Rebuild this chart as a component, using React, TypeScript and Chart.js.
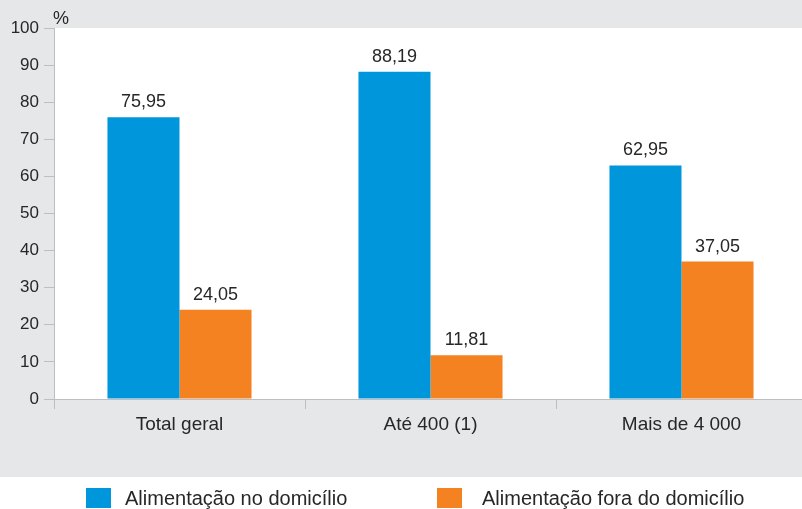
import React, { useEffect, useRef } from "react";
import { Chart, registerables } from "chart.js";

Chart.register(...registerables);

const categories = ["Total geral", "Até 400 (1)", "Mais de 4 000"];
const seriesNames = ["Alimentação no domicílio", "Alimentação fora do domicílio"];
const noDomicilio = [75.95, 88.19, 62.95];
const foraDomicilio = [24.05, 11.81, 37.05];
const yMin = 0;
const yMax = 100;
const yStep = 10;
const unitLabel = "%";

const BLUE = "rgb(0,150,219)";
const ORANGE = "rgb(245,130,32)";
const GRAY_BG = "rgb(230,231,232)";
const AXIS = "rgb(190,190,192)";
const TEXT = "rgb(40,38,40)";
const FONT = "'Liberation Sans', Arial, sans-serif";

const fmt = (v: number) => v.toFixed(2).replace(".", ",");

const legendBoxX = [86, 437];
const legendTextGap = [39, 45];

const bgPlugin = {
  id: "bgPlugin",
  beforeDraw(chart: any) {
    const { ctx, width, height, chartArea } = chart;
    ctx.save();
    ctx.fillStyle = "#ffffff";
    ctx.fillRect(0, 0, width, height);
    ctx.fillStyle = GRAY_BG;
    ctx.fillRect(0, 0, width, 477);
    ctx.fillStyle = "#ffffff";
    ctx.fillRect(chartArea.left, chartArea.top, chartArea.right - chartArea.left, chartArea.bottom - chartArea.top);
    ctx.restore();
  },
};

const labelsPlugin = {
  id: "labelsPlugin",
  afterDatasetsDraw(chart: any) {
    const { ctx, chartArea } = chart;
    ctx.save();
    ctx.fillStyle = TEXT;
    ctx.font = `18px ${FONT}`;
    ctx.textAlign = "center";
    ctx.textBaseline = "alphabetic";
    chart.data.datasets.forEach((ds: any, i: number) => {
      const meta = chart.getDatasetMeta(i);
      meta.data.forEach((bar: any, j: number) => {
        ctx.fillText(fmt(ds.data[j]), bar.x, bar.y - 10);
      });
    });
    // unit label
    ctx.textAlign = "left";
    ctx.font = `18px ${FONT}`;
    ctx.fillText(unitLabel, chartArea.left - 1, 24);
    // legend
    ctx.font = `20px ${FONT}`;
    ctx.textBaseline = "middle";
    chart.data.datasets.forEach((ds: any, i: number) => {
      const x0 = legendBoxX[i];
      ctx.fillStyle = ds.backgroundColor;
      ctx.fillRect(x0, 488, 25, 20);
      ctx.fillStyle = TEXT;
      ctx.fillText(ds.label, x0 + legendTextGap[i], 499);
    });
    ctx.restore();
  },
};

export default function App() {
  const ref = useRef<HTMLCanvasElement | null>(null);
  useEffect(() => {
    document.body.style.margin = "0";
    document.body.style.overflow = "hidden";
    const chart = new Chart(ref.current as HTMLCanvasElement, {
      type: "bar",
      data: {
        labels: categories,
        datasets: [
          { label: seriesNames[0], data: noDomicilio, backgroundColor: BLUE, barPercentage: 1, categoryPercentage: 0.574 },
          { label: seriesNames[1], data: foraDomicilio, backgroundColor: ORANGE, barPercentage: 1, categoryPercentage: 0.574 },
        ],
      },
      options: {
        responsive: false,
        devicePixelRatio: 1,
        animation: false,
        layout: { padding: { top: 28, right: 3, left: 0, bottom: 0 } },
        plugins: { legend: { display: false }, tooltip: { enabled: false } },
        scales: {
          x: {
            grid: { display: true, drawOnChartArea: false, drawTicks: true, tickLength: 10, color: AXIS, offset: true },
            border: { display: true, color: AXIS, width: 1 },
            ticks: { color: TEXT, font: { family: FONT, size: 19 }, padding: 4, maxRotation: 0 },
            afterFit: (scale: any) => { scale.height = 110; },
          },
          y: {
            min: yMin,
            max: yMax,
            ticks: { stepSize: yStep, color: TEXT, font: { family: FONT, size: 17 }, padding: 5 },
            grid: { display: true, drawOnChartArea: false, drawTicks: true, tickLength: 10, color: AXIS },
            border: { display: true, color: AXIS, width: 1 },
            afterFit: (scale: any) => { scale.width = 54; },
          },
        },
      },
      plugins: [bgPlugin, labelsPlugin],
    });
    return () => chart.destroy();
  }, []);
  return (
    <div style={{ position: "fixed", left: 0, top: 0, width: 802, height: 509, overflow: "hidden" }}>
      <canvas ref={ref} width={810} height={509} style={{ display: "block" }} />
    </div>
  );
}
